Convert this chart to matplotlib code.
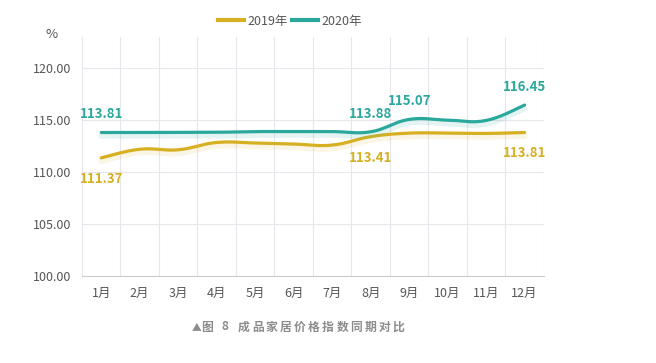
import numpy as np
import matplotlib.pyplot as plt
import matplotlib.patheffects as pe
from matplotlib.lines import Line2D

plt.rcParams['font.family'] = ['Noto Sans CJK SC', 'DejaVu Sans']

months = ['1月', '2月', '3月', '4月', '5月', '6月', '7月', '8月', '9月', '10月', '11月', '12月']
y2019 = [111.37, 112.2, 112.15, 112.85, 112.8, 112.7, 112.6, 113.41, 113.75, 113.75, 113.72, 113.81]
y2020 = [113.81, 113.81, 113.82, 113.83, 113.9, 113.9, 113.9, 113.88, 115.07, 115.0, 114.97, 116.45]

# which points get a value label
labels2019 = [0, 7, 11]
labels2020 = [0, 7, 8, 11]

c2019 = '#d6b021'
c2020 = '#2aa89c'

caption = '▲图 8 成品家居价格指数同期对比'


def smooth(x, y, s=0.2, n=20):
    # bezier smoothing through the points (like echarts smooth line)
    x = np.asarray(x, float)
    y = np.asarray(y, float)
    xs, ys = [], []
    m = len(x)
    for i in range(m - 1):
        p0 = np.array([x[i], y[i]])
        p3 = np.array([x[i + 1], y[i + 1]])
        prev = np.array([x[max(i - 1, 0)], y[max(i - 1, 0)]])
        nxt = np.array([x[min(i + 2, m - 1)], y[min(i + 2, m - 1)]])
        p1 = p0 + (p3 - prev) * s
        p2 = p3 - (nxt - p0) * s
        t = np.linspace(0, 1, n)[:, None]
        pts = (1 - t) ** 3 * p0 + 3 * (1 - t) ** 2 * t * p1 + 3 * (1 - t) * t ** 2 * p2 + t ** 3 * p3
        xs.extend(pts[:, 0])
        ys.extend(pts[:, 1])
    return np.array(xs), np.array(ys)


fig = plt.figure(figsize=(6.56, 3.63), dpi=100)
ax = fig.add_axes([0.125, 0.2397, 0.704, 0.6583])

xpos = np.arange(len(months)) + 0.5

shadow = lambda c: [pe.SimpleLineShadow(offset=(0, -2.5), shadow_color=c, alpha=0.12, linewidth=4), pe.Normal()]

sx, sy = smooth(xpos, y2019)
ax.plot(sx, sy, color=c2019, lw=2.3, solid_capstyle='round', path_effects=shadow(c2019), zorder=3)
sx, sy = smooth(xpos, y2020)
ax.plot(sx, sy, color=c2020, lw=2.3, solid_capstyle='round', path_effects=shadow(c2020), zorder=4)

for i in labels2019:
    ax.annotate(f'{y2019[i]:.2f}', (xpos[i], y2019[i]), xytext=(0, -10), textcoords='offset points',
                ha='center', va='top', color=c2019, fontsize=9.5, fontweight='bold')
for i in labels2020:
    ax.annotate(f'{y2020[i]:.2f}', (xpos[i], y2020[i]), xytext=(0, 8), textcoords='offset points',
                ha='center', va='bottom', color=c2020, fontsize=9.5, fontweight='bold')

ax.set_xlim(0, 12)
ax.set_ylim(100, 123)
ax.set_yticks([100, 105, 110, 115, 120])
ax.set_yticklabels([f'{v:.2f}' for v in [100, 105, 110, 115, 120]])
ax.set_xticks(xpos)
ax.set_xticklabels(months)
ax.set_xticks(np.arange(0, 13), minor=True)
ax.tick_params(axis='both', which='both', length=0, colors='#555555', labelsize=9)
ax.tick_params(axis='x', pad=8)
ax.tick_params(axis='y', pad=8)

ax.grid(axis='x', which='minor', color='#e6e6ec', lw=0.8)
ax.grid(axis='y', which='major', color='#e6e6ec', lw=0.8)
ax.grid(axis='x', which='major', visible=False)
ax.set_axisbelow(True)
for side in ['top', 'right', 'left']:
    ax.spines[side].set_visible(False)
ax.spines['bottom'].set_color('#cccccc')

fig.text(52 / 656, 1 - 35 / 363, '%', ha='center', va='center', fontsize=9.5, color='#555555')

# legend
handles = [Line2D([], [], color=c2019, lw=3), Line2D([], [], color=c2020, lw=3)]
fig.legend(handles, ['2019年', '2020年'], loc='center', bbox_to_anchor=(290 / 656, 1 - 21 / 363), ncol=2,
           frameon=False, fontsize=9, handlelength=2.1, handletextpad=0.3, columnspacing=0.3,
           labelcolor='#555555')

# caption with wide letter spacing (pixel step after each char)
steps = {'▲': 10.5, '图': 17.5, '8': 18.5}
cx = 197
for ch in caption:
    if ch == ' ':
        continue
    fig.text(cx / 656, 1 - 327 / 363, ch, ha='center', va='center',
             fontsize=8.5 if ch != '▲' else 7, color='#8c8c8c', fontweight='bold')
    cx += steps.get(ch, 14.1)

fig.savefig('out.png', dpi=100)
